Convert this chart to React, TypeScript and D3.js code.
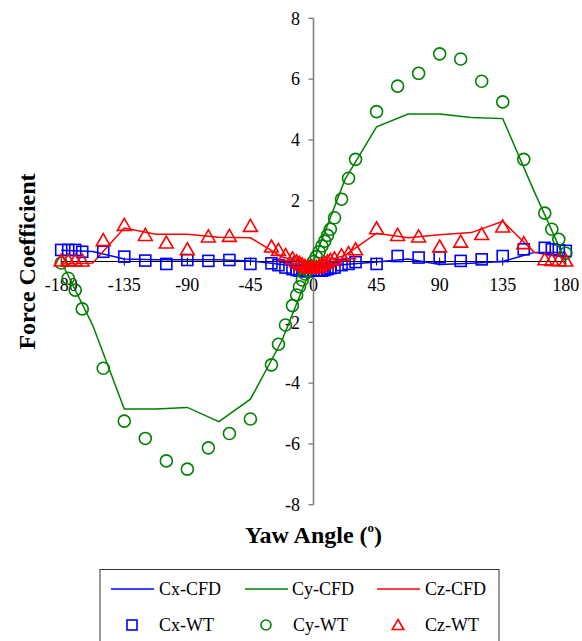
import React from "react";
import * as d3 from "d3";

// Yaw angles (degrees) for CFD runs and wind-tunnel (WT) measurements
const cfdAngles = [-180, -157.5, -135, -112.5, -90, -67.5, -45, -22.5, 0, 22.5, 45, 67.5, 90, 112.5, 135, 157.5, 180];
const cxCfd = [0.37, 0.33, 0.08, 0.06, 0.06, 0.06, 0.02, -0.1, -0.2, -0.1, -0.02, 0.08, -0.1, -0.06, 0.0, 0.3, 0.3];
const cyCfd = [0, -2.1, -4.85, -4.85, -4.8, -5.27, -4.53, -2.6, 0, 2.7, 4.43, 4.85, 4.85, 4.74, 4.7, 2.3, 0];
const czCfd = [-0.08, -0.05, 1.1, 0.9, 0.9, 0.8, 0.78, 0.15, -0.1, 0.2, 0.93, 0.78, 0.88, 0.95, 1.32, 0.3, 0.15];

const wtAngles = [
  -180, -175, -170, -165, -150, -135, -120, -105, -90, -75, -60, -45, -30, -25, -20, -15, -12, -10, -8, -6, -4, -2,
  0, 2, 4, 6, 8, 10, 12, 15, 20, 25, 30, 45, 60, 75, 90, 105, 120, 135, 150, 165, 170, 175, 180,
];
const cxWt = [
  0.38, 0.38, 0.38, 0.32, 0.32, 0.16, 0.03, -0.08, 0.05, 0.02, 0.05, -0.08, -0.06, -0.12, -0.2, -0.25, -0.28, -0.3, -0.3, -0.32, -0.32, -0.3,
  -0.3, -0.3, -0.3, -0.3, -0.28, -0.25, -0.22, -0.2, -0.12, -0.08, -0.02, -0.08, 0.18, 0.13, 0.14, 0.02, 0.07, 0.18, 0.4, 0.45, 0.4, 0.37, 0.35,
];
const cyWt = [
  -0.05, -0.55, -0.94, -1.56, -3.51, -5.25, -5.82, -6.56, -6.83, -6.13, -5.66, -5.18, -3.4, -2.72, -2.09, -1.45, -1.1, -0.83, -0.61, -0.41, -0.3, -0.15,
  0, 0.16, 0.32, 0.51, 0.67, 0.86, 1.06, 1.44, 2.05, 2.74, 3.36, 4.93, 5.77, 6.19, 6.83, 6.66, 5.93, 5.25, 3.36, 1.59, 1.06, 0.73, 0.27,
];
const czWt = [
  0.03, 0.03, 0.03, 0.03, 0.7, 1.2, 0.87, 0.62, 0.4, 0.82, 0.84, 1.17, 0.49, 0.38, 0.21, 0.1, 0.0, -0.05, -0.1, -0.15, -0.18, -0.2,
  -0.2, -0.18, -0.15, -0.1, -0.05, 0.0, 0.05, 0.1, 0.2, 0.27, 0.4, 1.09, 0.87, 0.82, 0.49, 0.65, 0.9, 1.15, 0.6, 0.07, 0.05, 0.04, 0.03,
];

const xTicks = [-180, -135, -90, -45, 0, 45, 90, 135, 180];
const yTicks = [-8, -6, -4, -2, 0, 2, 4, 6, 8];

const BLUE = "#0000ff";
const GREEN = "#008000";
const RED = "#ff0000";
const FONT = "Liberation Serif";

type Shape = "square" | "circle" | "triangle";

function Marker({ shape, cx, cy, color, size }: { shape: Shape; cx: number; cy: number; color: string; size: number }) {
  const h = size / 2;
  if (shape === "square")
    return <rect x={cx - h} y={cy - h} width={size} height={size} fill="none" stroke={color} strokeWidth={1.6} />;
  if (shape === "circle") return <circle cx={cx} cy={cy} r={h} fill="none" stroke={color} strokeWidth={1.6} />;
  return (
    <path
      d={`M${cx},${cy - h * 1.1} L${cx + h * 1.15},${cy + h * 0.9} L${cx - h * 1.15},${cy + h * 0.9} Z`}
      fill="none"
      stroke={color}
      strokeWidth={1.6}
    />
  );
}

export default function App() {
  const x = d3.scaleLinear().domain([-180, 180]).range([61.2, 565.8]);
  const y = d3.scaleLinear().domain([-8, 8]).range([504.7, 18.3]);
  const x0 = x(0);
  const y0 = y(0);

  const line = d3
    .line<[number, number]>()
    .x((d) => x(d[0]))
    .y((d) => y(d[1]));

  const cfd = [
    { vals: cxCfd, color: BLUE },
    { vals: cyCfd, color: GREEN },
    { vals: czCfd, color: RED },
  ];
  const wt: { vals: number[]; color: string; shape: Shape; size: number }[] = [
    { vals: cxWt, color: BLUE, shape: "square", size: 11 },
    { vals: cyWt, color: GREEN, shape: "circle", size: 12 },
    { vals: czWt, color: RED, shape: "triangle", size: 12 },
  ];

  const legendCfd = [
    { label: "Cx-CFD", color: BLUE, lx: 111, tx: 159 },
    { label: "Cy-CFD", color: GREEN, lx: 245, tx: 292 },
    { label: "Cz-CFD", color: RED, lx: 377, tx: 425 },
  ];
  const legendWt: { label: string; color: string; shape: Shape; mx: number; tx: number }[] = [
    { label: "Cx-WT", color: BLUE, shape: "square", mx: 132, tx: 159 },
    { label: "Cy-WT", color: GREEN, shape: "circle", mx: 266, tx: 293 },
    { label: "Cz-WT", color: RED, shape: "triangle", mx: 398, tx: 425 },
  ];

  const txt = { fontFamily: FONT };

  return (
    <svg width={582} height={641} style={{ position: "absolute", left: 0, top: 0, background: "#fff" }}>
      {/* horizontal axis through zero */}
      <line x1={x(-180)} x2={x(180)} y1={y0} y2={y0} stroke="#000" strokeWidth={1} />
      {xTicks.map((t) => (
        <g key={`xt${t}`}>
          <line x1={x(t)} x2={x(t)} y1={y0 - 4} y2={y0 + 4} stroke="#000" strokeWidth={1} />
          <text x={x(t)} y={291} style={txt} fontSize={18} textAnchor="middle" fill="#000">
            {t}
          </text>
        </g>
      ))}

      {/* vertical axis at zero yaw */}
      <line x1={x0} x2={x0} y1={y(8)} y2={y(-8)} stroke="#808080" strokeWidth={1.6} />
      {yTicks.map((t) => (
        <g key={`yt${t}`}>
          <line x1={x0 - 5} x2={x0} y1={y(t)} y2={y(t)} stroke="#808080" strokeWidth={1.4} />
          <text x={300} y={y(t)} dy="0.35em" style={txt} fontSize={18} textAnchor="end" fill="#000">
            {t}
          </text>
        </g>
      ))}

      {/* CFD curves */}
      {cfd.map((s, i) => (
        <path
          key={`cfd${i}`}
          d={line(cfdAngles.map((a, k) => [a, s.vals[k]] as [number, number])) || ""}
          fill="none"
          stroke={s.color}
          strokeWidth={1.5}
        />
      ))}

      {/* wind-tunnel measurements */}
      {wt.map((s, i) => (
        <g key={`wt${i}`}>
          {wtAngles.map((a, k) => (
            <Marker key={k} shape={s.shape} cx={x(a)} cy={y(s.vals[k])} color={s.color} size={s.size} />
          ))}
        </g>
      ))}

      {/* axis titles */}
      <text
        transform={`translate(27,${y0}) rotate(-90)`}
        textAnchor="middle"
        dy="0.35em"
        style={txt}
        fontSize={24}
        fontWeight="bold"
        fill="#000"
      >
        Force Coefficient
      </text>
      <text x={x0} y={543} textAnchor="middle" style={txt} fontSize={24} fontWeight="bold" fill="#000">
        Yaw Angle (<tspan fontSize={13} dy={-11}>o</tspan>
        <tspan dy={11}>)</tspan>
      </text>

      {/* legend */}
      <rect x={100} y={569.5} width={399} height={80} fill="#fff" stroke="#333" strokeWidth={1} />
      {legendCfd.map((l) => (
        <g key={l.label}>
          <line x1={l.lx} x2={l.lx + 43} y1={589} y2={589} stroke={l.color} strokeWidth={1.5} />
          <text x={l.tx} y={589} dy="0.35em" style={txt} fontSize={18} fill="#000">
            {l.label}
          </text>
        </g>
      ))}
      {legendWt.map((l) => (
        <g key={l.label}>
          <Marker shape={l.shape} cx={l.mx} cy={625} color={l.color} size={10} />
          <text x={l.tx} y={625} dy="0.35em" style={txt} fontSize={18} fill="#000">
            {l.label}
          </text>
        </g>
      ))}
    </svg>
  );
}
